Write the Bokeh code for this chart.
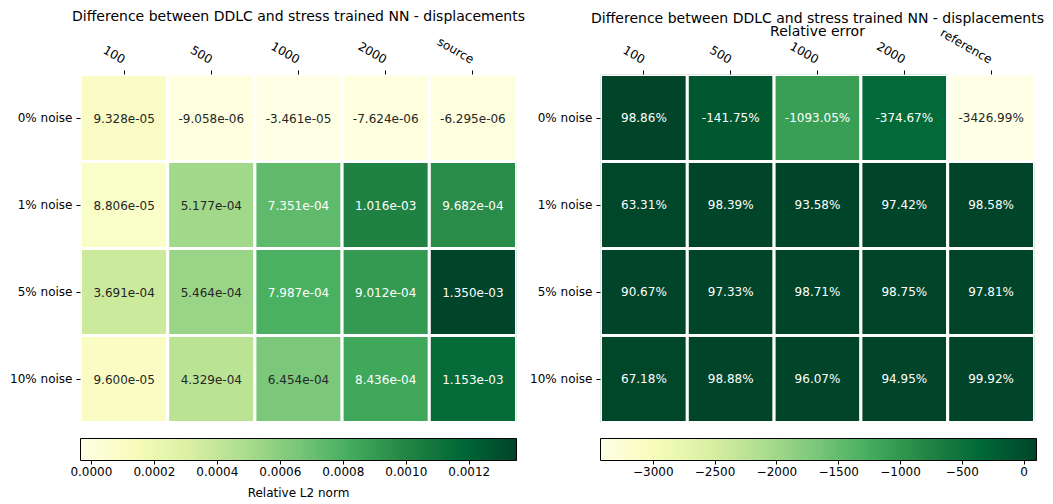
import numpy as np
from bokeh.plotting import figure
from bokeh.layouts import row
from bokeh.models import (ColumnDataSource, LinearColorMapper, ColorBar, FixedTicker,
                          Range1d, Title)
from bokeh.transform import transform
from bokeh.embed import file_html
from bokeh.resources import INLINE
from bokeh.core.properties import value

# ---------------- data ----------------
noise_levels = ["0% noise", "1% noise", "5% noise", "10% noise"]
left_columns = ["100", "500", "1000", "2000", "source"]
right_columns = ["100", "500", "1000", "2000", "reference"]

l2_noise0 = [9.328e-05, -9.058e-06, -3.461e-05, -7.624e-06, -6.295e-06]
l2_noise1 = [8.806e-05, 5.177e-04, 7.351e-04, 1.016e-03, 9.682e-04]
l2_noise5 = [3.691e-04, 5.464e-04, 7.987e-04, 9.012e-04, 1.350e-03]
l2_noise10 = [9.600e-05, 4.329e-04, 6.454e-04, 8.436e-04, 1.153e-03]

rel_noise0 = [98.86, -141.75, -1093.05, -374.67, -3426.99]
rel_noise1 = [63.31, 98.39, 93.58, 97.42, 98.58]
rel_noise5 = [90.67, 97.33, 98.71, 98.75, 97.81]
rel_noise10 = [67.18, 98.88, 96.07, 94.95, 99.92]

left_cbar_ticks = [0.0, 0.0002, 0.0004, 0.0006, 0.0008, 0.0010, 0.0012]
left_cbar_labels = ["0.0000", "0.0002", "0.0004", "0.0006", "0.0008", "0.0010", "0.0012"]
right_cbar_ticks = [-3000, -2500, -2000, -1500, -1000, -500, 0]
right_cbar_labels = ["\u22123000", "\u22122500", "\u22122000", "\u22121500", "\u22121000", "\u2212500", "0"]

title_main = "Difference between DDLC and stress trained NN - displacements"
title_sub = "Relative error"
cbar_title_left = "Relative L2 norm"

# ---------------- style ----------------
FONT = "DejaVu Sans"
YLGN_ANCHORS = ["#ffffe5", "#f7fcb9", "#d9f0a3", "#addd8e", "#78c679",
                "#41ab5d", "#238443", "#006837", "#004529"]


def hex_to_rgb(h):
    return [int(h[i:i + 2], 16) for i in (1, 3, 5)]


def build_palette(anchors, n=256):
    rgb = np.array([hex_to_rgb(a) for a in anchors], dtype=float)
    pos = np.linspace(0, 1, len(anchors))
    t = np.linspace(0, 1, n)
    out = []
    for k in range(n):
        c = [np.interp(t[k], pos, rgb[:, j]) for j in range(3)]
        out.append("#%02x%02x%02x" % tuple(int(round(v)) for v in c))
    return out


PALETTE = build_palette(YLGN_ANCHORS)


def luminance(hexcol):
    rgb = np.array(hex_to_rgb(hexcol)) / 255.0
    lin = np.where(rgb <= 0.03928, rgb / 12.92, ((rgb + 0.055) / 1.055) ** 2.4)
    return 0.2126 * lin[0] + 0.7152 * lin[1] + 0.0722 * lin[2]


FRAME_W = 436
CELL_H = 87.25
GAP_BELOW = 16          # white space between heatmap and colour bar (px)
TOP = 74
BOTTOM = 65


def make_panel(rows, cols, fmt, titles, cbar_ticks, cbar_labels, cbar_title,
               border_left, border_right):
    vals = np.array(rows, dtype=float)
    low, high = float(vals.min()), float(vals.max())
    n_r, n_c = vals.shape
    xs, ys, vs, labels, tcols = [], [], [], [], []
    for i in range(n_r):
        for j in range(n_c):
            v = vals[i, j]
            xs.append(j + 0.5)
            ys.append(i + 0.5)
            vs.append(v)
            labels.append(fmt(v))
            idx = int(np.clip((v - low) / (high - low) * len(PALETTE), 0, len(PALETTE) - 1))
            tcols.append("#262626" if luminance(PALETTE[idx]) > 0.408 else "#ffffff")
    src = ColumnDataSource(dict(x=xs, y=ys, v=vs, label=labels, tcol=tcols))
    mapper = LinearColorMapper(palette=PALETTE, low=low, high=high)

    frame_h = int(round(n_r * CELL_H + GAP_BELOW))
    p = figure(width=border_left + FRAME_W + border_right, height=TOP + frame_h + BOTTOM,
               x_range=Range1d(0, n_c), y_range=Range1d(n_r + GAP_BELOW / CELL_H, 0),
               x_axis_location="above", toolbar_location=None, output_backend="svg",
               min_border_left=border_left, min_border_right=border_right,
               min_border_top=TOP, min_border_bottom=BOTTOM)
    p.outline_line_color = None
    p.grid.visible = False
    p.background_fill_color = "white"

    p.rect(x="x", y="y", width=1, height=1, source=src,
           fill_color=transform("v", mapper), line_color="white", line_width=3)
    p.text(x="x", y="y", text="label", source=src, text_color="tcol",
           text_align="center", text_baseline="middle",
           text_font=value(FONT), text_font_size="12px")

    for ax in (p.xaxis[0], p.yaxis[0]):
        ax.axis_line_color = None
        ax.major_tick_in = 0
        ax.major_tick_out = 4
        ax.minor_tick_line_color = None
        ax.major_tick_line_color = "black"
        ax.major_label_text_font = FONT
        ax.major_label_text_font_size = "12px"
        ax.major_label_text_color = "black"
        ax.major_label_standoff = 4
    p.xaxis.major_label_standoff = 10
    p.xaxis.ticker = FixedTicker(ticks=[j + 0.5 for j in range(n_c)])
    p.xaxis.major_label_overrides = {j + 0.5: c for j, c in enumerate(cols)}
    p.xaxis.major_label_orientation = -np.pi / 6
    p.yaxis.ticker = FixedTicker(ticks=[i + 0.5 for i in range(n_r)])
    p.yaxis.major_label_overrides = {i + 0.5: r for i, r in enumerate(noise_levels)}

    # titles: (text, vertical_align, standoff), innermost first
    for text, valign, standoff in titles:
        p.add_layout(Title(text=text, align="center", vertical_align=valign,
                           standoff=standoff, text_font=FONT, text_font_size="14px",
                           text_font_style="normal", text_color="black"), "above")

    cb = ColorBar(color_mapper=mapper, orientation="horizontal", location="top_left",
                  width=FRAME_W, height=22, padding=0, margin=0,
                  ticker=FixedTicker(ticks=cbar_ticks),
                  major_label_overrides={t: l for t, l in zip(cbar_ticks, cbar_labels)},
                  major_label_text_font=FONT, major_label_text_font_size="12px",
                  major_label_text_color="black",
                  major_tick_in=0, major_tick_out=4, major_tick_line_color="black",
                  minor_tick_line_color=None, bar_line_color="black",
                  label_standoff=2, background_fill_color=None, border_line_color=None)
    p.add_layout(cb, "below")
    if cbar_title:
        p.add_layout(Title(text=cbar_title, align="center", vertical_align="bottom",
                           standoff=10, text_font=FONT, text_font_size="12px",
                           text_font_style="normal", text_color="black"), "below")
    return p


left = make_panel([l2_noise0, l2_noise1, l2_noise5, l2_noise10], left_columns,
                  lambda v: "{:.3e}".format(v), [(title_main, "top", -2.3)],
                  left_cbar_ticks, left_cbar_labels, cbar_title_left, 80, 11)
right = make_panel([rel_noise0, rel_noise1, rel_noise5, rel_noise10], right_columns,
                   lambda v: "{:.2f}%".format(v),
                   [(title_main, "bottom", -18.3), (title_sub, "bottom", -44.3)],
                   right_cbar_ticks, right_cbar_labels, None, 71, 16)

layout = row(left, right)
open("out.html", "w").write(file_html(layout, INLINE))
